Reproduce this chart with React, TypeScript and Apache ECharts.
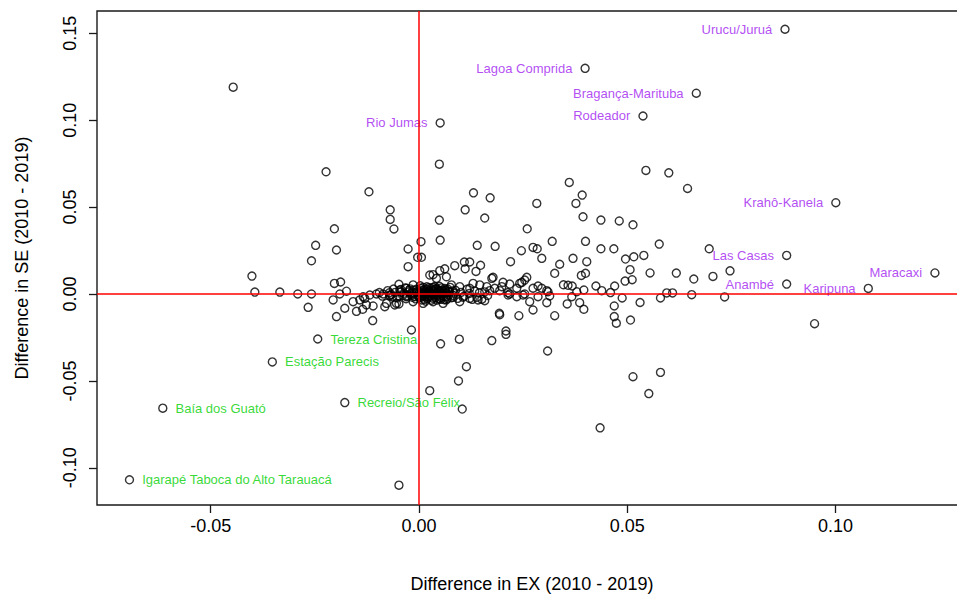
import React, { useEffect, useRef } from "react";
import * as echarts from "echarts";

const xTicks = [-0.05, 0, 0.05, 0.1];
const yTicks = [-0.1, -0.05, 0, 0.05, 0.1, 0.15];

const purpleNames = ["Urucu/Juruá", "Lagoa Comprida", "Bragança-Marituba", "Rodeador", "Rio Jumas", "Krahô-Kanela", "Las Casas", "Maracaxi", "Anambé", "Karipuna"];
const purpleX = [0.0879, 0.0399, 0.0666, 0.0538, 0.0051, 0.1001, 0.0883, 0.1239, 0.0883, 0.1079];
const purpleY = [0.1523, 0.1298, 0.1155, 0.1024, 0.0984, 0.0525, 0.0222, 0.0121, 0.0057, 0.0032];

const greenNames = ["Tereza Cristina", "Estação Parecis", "Baía dos Guató", "Igarapé Taboca do Alto Tarauacá", "Recreio/São Félix"];
const greenX = [-0.0243, -0.0352, -0.0615, -0.0695, -0.0178];
const greenY = [-0.0259, -0.0391, -0.0657, -0.1069, -0.0625];

// other (unlabelled) points: [EX difference, SE difference]
const leftPoints: number[][] = [
  [-0.0446, 0.119], [-0.0223, 0.0703], [-0.012, 0.0588], [-0.0069, 0.0484], [-0.0069, 0.0429],
  [-0.006, 0.0374], [-0.0203, 0.0375], [-0.0248, 0.028], [-0.0198, 0.0253], [-0.0258, 0.0191],
  [-0.0026, 0.0259], [0.0005, 0.0301], [-0.0003, 0.0211], [0.0006, 0.0211], [-0.0026, 0.0157],
  [-0.0401, 0.0103], [-0.0394, 0.0011], [-0.0334, 0.0011], [-0.0291, 0.0], [-0.0258, 0.0],
  [-0.0203, 0.0061], [-0.0188, 0.0069], [-0.0048, 0.0056], [-0.0266, -0.0077], [-0.0206, -0.0034],
  [-0.019, 0.0], [-0.0174, 0.0016], [-0.0178, -0.0082], [-0.0198, -0.013], [-0.015, -0.01],
  [-0.0158, -0.0044], [-0.0135, -0.0088], [-0.0126, -0.0063], [-0.011, -0.0069], [-0.0111, -0.0153],
  [-0.0134, -0.0016], [-0.0118, -0.0006], [-0.0102, 0.0], [-0.0086, 0.0], [-0.007, -0.0011],
  [-0.0142, -0.0034], [-0.013, -0.0025], [-0.0082, -0.0073], [-0.0054, -0.0054], [-0.003, 0.0033],
  [-0.0014, 0.0052], [-0.0018, -0.0207], [0.0026, -0.0556], [-0.0048, -0.0057], [-0.0048, -0.11],
];

const upperRightPoints: number[][] = [
  [0.0049, 0.0747], [0.0131, 0.0582], [0.0171, 0.0553], [0.0111, 0.0484], [0.0158, 0.0437],
  [0.0049, 0.0425], [0.0283, 0.0521], [0.0361, 0.0642], [0.0392, 0.0569], [0.0377, 0.0521],
  [0.0394, 0.0444], [0.0437, 0.0425], [0.0481, 0.042], [0.0514, 0.0398], [0.026, 0.0375],
  [0.0051, 0.031], [0.014, 0.028], [0.0183, 0.0274], [0.032, 0.0303], [0.04, 0.0303],
  [0.0437, 0.026], [0.0468, 0.026], [0.0246, 0.0249], [0.0274, 0.0268], [0.0284, 0.026],
  [0.0295, 0.0205], [0.022, 0.0186], [0.037, 0.0205], [0.0403, 0.0186], [0.0338, 0.0171],
  [0.0109, 0.0184], [0.0122, 0.0184], [0.0148, 0.0165], [0.0086, 0.0163], [0.0062, 0.0145],
  [0.005, 0.0134], [0.0137, 0.013], [0.0111, 0.0145], [0.0034, 0.0111], [0.0326, 0.0119],
  [0.039, 0.0107], [0.04, 0.0119], [0.0259, 0.0096], [0.0178, 0.0096], [0.0175, 0.009],
  [0.0202, 0.0067], [0.0218, 0.0057], [0.0247, 0.0067], [0.0286, 0.0046], [0.0347, 0.0053],
  [0.0358, 0.005], [0.0368, 0.0046], [0.0396, 0.0023], [0.0425, 0.0046], [0.0439, 0.0019],
  [0.046, 0.0008], [0.047, 0.0046], [0.0545, 0.0711], [0.06, 0.0697], [0.0645, 0.0607],
  [0.0577, 0.0287], [0.0496, 0.0201], [0.0516, 0.0214], [0.054, 0.0222], [0.0697, 0.026],
  [0.0507, 0.014], [0.0555, 0.0121], [0.0495, 0.0074], [0.0512, 0.0082], [0.0618, 0.012],
  [0.066, 0.0086], [0.0706, 0.0101], [0.0747, 0.0133],
];

const lowerRightPoints: number[][] = [
  [0.0469, -0.0069], [0.0469, -0.013], [0.0474, -0.0168], [0.0386, -0.005], [0.0396, -0.0088],
  [0.0356, -0.0057], [0.0307, -0.005], [0.0326, -0.0125], [0.0274, -0.0092], [0.0266, -0.0044],
  [0.024, -0.0125], [0.0193, -0.0111], [0.0194, -0.0119], [0.0209, -0.0213], [0.0209, -0.0232],
  [0.0175, -0.0268], [0.0097, -0.026], [0.0052, -0.0287], [0.0309, -0.0328], [0.0114, -0.0418],
  [0.0095, -0.05], [0.0104, -0.0662], [0.0435, -0.077], [0.0514, -0.0476], [0.058, -0.0451],
  [0.0552, -0.0573], [0.0508, -0.015], [0.0531, -0.0049], [0.0488, -0.0023], [0.058, -0.0023],
  [0.0595, 0.0006], [0.0609, 0.0006], [0.0655, -0.0004], [0.0734, -0.0017], [0.095, -0.0171],
];

const nearZeroPoints: number[][] = [
  [0.0151, -0.003], [0.0139, -0.0019], [0.0218, 0.0], [0.0214, 0.0008], [0.0254, 0.0],
  [0.0295, 0.0033], [0.0307, 0.0019], [0.0194, 0.0019], [0.017, 0.0019], [0.0122, 0.0033],
  [0.0106, -0.0019], [0.0058, -0.0054], [0.0082, -0.0019], [0.013, 0.0061], [0.0146, 0.0052],
  [0.0163, 0.0042], [0.0182, 0.0033], [0.0199, 0.0042], [0.0235, 0.0033], [0.0242, 0.0061],
  [0.0254, 0.008], [0.0274, 0.0033], [0.031, 0.0013], [0.0379, 0.0013], [0.0034, -0.0044],
  [0.0122, -0.0025], [0.0142, -0.0034], [0.0158, -0.0039], [0.0214, -0.0006], [0.0235, -0.0016],
  [0.025, -0.0006], [0.0286, -0.0016], [0.0314, -0.0011], [0.0367, -0.0016],
  [-0.0018, 0.0004], [0.0026, 0.0109], [0.0042, 0.009], [0.0066, 0.0099], [0.0078, 0.0052],
  [0.0098, 0.0042], [-0.0078, -0.0054], [-0.0058, -0.0063], [-0.0014, -0.0044], [0.001, -0.0054],
  [0.0066, -0.0034], [0.0098, -0.0044], [-0.007, -0.0006], [-0.0046, 0.0023], [-0.003, -0.0016],
];

const clusterPoints: number[][] = [
  [-0.0025, 0.0012], [-0.0018, -0.0008], [-0.0012, 0.0021], [-0.0009, -0.0015], [-0.0005, 0.0008],
  [-0.0002, -0.0003], [0.0001, 0.0015], [0.0003, -0.0021], [0.0005, 0.0032], [0.0007, 0.0004],
  [0.0009, -0.0009], [0.0011, 0.0024], [0.0013, -0.0032], [0.0015, 0.0011], [0.0017, -0.0004],
  [0.0019, 0.0041], [0.0021, 0.0006], [0.0023, -0.0017], [0.0025, 0.0019], [0.0027, -0.0006],
  [0.0029, 0.0033], [0.0031, 0.0002], [0.0033, -0.0024], [0.0035, 0.0013], [0.0037, -0.0011],
  [0.0039, 0.0027], [0.0041, 0.0005], [0.0043, -0.0035], [0.0045, 0.0016], [0.0047, -0.0002],
  [0.0049, 0.0044], [0.0051, 0.0009], [0.0053, -0.0019], [0.0055, 0.0022], [0.0057, 0.0001],
  [0.006, -0.0012], [0.0062, 0.0031], [0.0065, 0.0007], [0.0068, -0.0026], [0.0071, 0.0015],
  [-0.0095, 0.0008], [-0.0088, -0.0012], [-0.0075, 0.0019], [-0.0066, -0.0003], [-0.0061, 0.0028],
  [-0.0053, -0.0021], [-0.0044, 0.0011], [-0.0039, -0.0009], [-0.0033, 0.0035], [-0.0031, -0.0027],
  [0.0075, 0.0038], [0.0082, -0.0008], [0.0088, 0.0021], [0.0093, -0.0025], [0.0101, 0.0009],
  [0.0108, -0.0013], [0.0115, 0.0027], [0.0121, 0.0003], [0.0128, -0.0031], [0.0134, 0.0016],
  [0.0145, 0.0006], [0.0158, 0.0012], [0.0165, -0.0009], [-0.0021, 0.0029], [0.0003, 0.0047],
  [0.0016, -0.0041], [0.0034, 0.0038], [0.0052, -0.0031], [-0.0008, -0.0028], [0.0012, 0.0001],
  [-0.0036, 0.0004], [-0.0029, -0.0011], [-0.0023, 0.0022], [-0.0016, -0.0019], [-0.0011, 0.0006],
  [-0.0006, 0.0027], [-0.0001, -0.0012], [0.0002, 0.0009], [0.0006, -0.0034], [0.0008, 0.0018],
  [0.001, 0.0038], [0.0014, -0.0016], [0.0018, 0.0027], [0.002, -0.0027], [0.0022, 0.0014],
  [0.0024, 0.0036], [0.0026, -0.0013], [0.0028, 0.0008], [0.003, -0.0036], [0.0032, 0.0022],
  [0.0036, -0.0003], [0.0038, 0.0043], [0.004, -0.0021], [0.0042, 0.0031], [0.0044, -0.0009],
  [0.0046, 0.0024], [0.0048, -0.0028], [0.005, 0.0017], [0.0054, 0.0035], [0.0056, -0.0008],
  [0.0058, 0.0013], [0.0061, -0.0033], [0.0063, 0.0021], [0.0066, -0.0015], [0.0069, 0.0028],
  [0.0072, -0.0005], [0.0074, 0.0011], [0.0078, -0.0021], [0.0081, 0.0017], [0.0085, 0.0004],
  [-0.0049, -0.0012], [-0.0043, 0.0026], [-0.0057, 0.0009], [-0.0063, -0.0017], [-0.0071, 0.0007],
];

const FONT = "'Liberation Sans', Arial, sans-serif";

export default function App() {
  const ref = useRef<HTMLDivElement>(null);
  useEffect(() => {
    if (!ref.current) return;
    const chart = echarts.init(ref.current, null, { renderer: "svg" });
    const allPoints = [...leftPoints, ...upperRightPoints, ...lowerRightPoints, ...nearZeroPoints, ...clusterPoints];
    const purpleData = purpleNames.map((n, i) => ({ name: n, value: [purpleX[i], purpleY[i]] }));
    const greenData = greenNames.map((n, i) => ({ name: n, value: [greenX[i], greenY[i]] }));
    const pointStyle = { color: "rgba(0,0,0,0)", borderColor: "#000", borderWidth: 1.4 };
    chart.setOption({
      animation: false,
      textStyle: { fontFamily: FONT },
      grid: { left: 97, top: 11, width: 870, height: 494, show: true, borderColor: "#1a1a1a", borderWidth: 1.4, backgroundColor: "rgba(0,0,0,0)" },
      xAxis: {
        type: "value", min: -0.0773, max: 0.1316,
        splitLine: { show: false },
        axisLine: { show: false, onZero: false },
        axisTick: { show: true, customValues: xTicks, length: 8, lineStyle: { color: "#1a1a1a", width: 1.3 } },
        axisLabel: { customValues: xTicks, formatter: (v: number) => v.toFixed(2), fontSize: 18, color: "#000", margin: 12, fontFamily: FONT },
        name: "Difference in EX (2010 - 2019)", nameLocation: "middle", nameGap: 70,
        nameTextStyle: { fontSize: 18, color: "#000", fontFamily: FONT },
      },
      yAxis: {
        type: "value", min: -0.1214, max: 0.1628,
        splitLine: { show: false },
        axisLine: { show: false, onZero: false },
        axisTick: { show: true, customValues: yTicks, length: 8, lineStyle: { color: "#1a1a1a", width: 1.3 } },
        axisLabel: { customValues: yTicks, formatter: (v: number) => v.toFixed(2), fontSize: 18, color: "#000", margin: 18, rotate: 90, fontFamily: FONT },
        name: "Difference in SE (2010 - 2019)", nameLocation: "middle", nameGap: 66,
        nameTextStyle: { fontSize: 18, color: "#000", fontFamily: FONT },
      },
      series: [
        { type: "scatter", data: allPoints, symbol: "circle", symbolSize: 8, itemStyle: pointStyle, silent: true },
        {
          type: "scatter", data: purpleData, symbol: "circle", symbolSize: 8, itemStyle: pointStyle, silent: true,
          label: { show: true, position: "left", distance: 8, formatter: "{b}", color: "#A020F0", fontSize: 13, fontFamily: FONT },
        },
        {
          type: "scatter", data: greenData, symbol: "circle", symbolSize: 8, itemStyle: pointStyle, silent: true,
          label: { show: true, position: "right", distance: 8, formatter: "{b}", color: "#00D000", fontSize: 13, fontFamily: FONT },
        },
        {
          type: "scatter", data: [], z: 5, silent: true,
          markLine: {
            silent: true, symbol: ["none", "none"], label: { show: false },
            lineStyle: { color: "#FF0000", width: 1.5, type: "solid" },
            emphasis: { disabled: true },
            data: [{ xAxis: 0 }, { yAxis: 0 }],
          },
        },
      ],
    });
    return () => chart.dispose();
  }, []);
  return (
    <div style={{ position: "absolute", left: 0, top: 0, width: 957, height: 600, overflow: "hidden" }}>
      <div ref={ref} style={{ width: 967, height: 600 }} />
    </div>
  );
}
